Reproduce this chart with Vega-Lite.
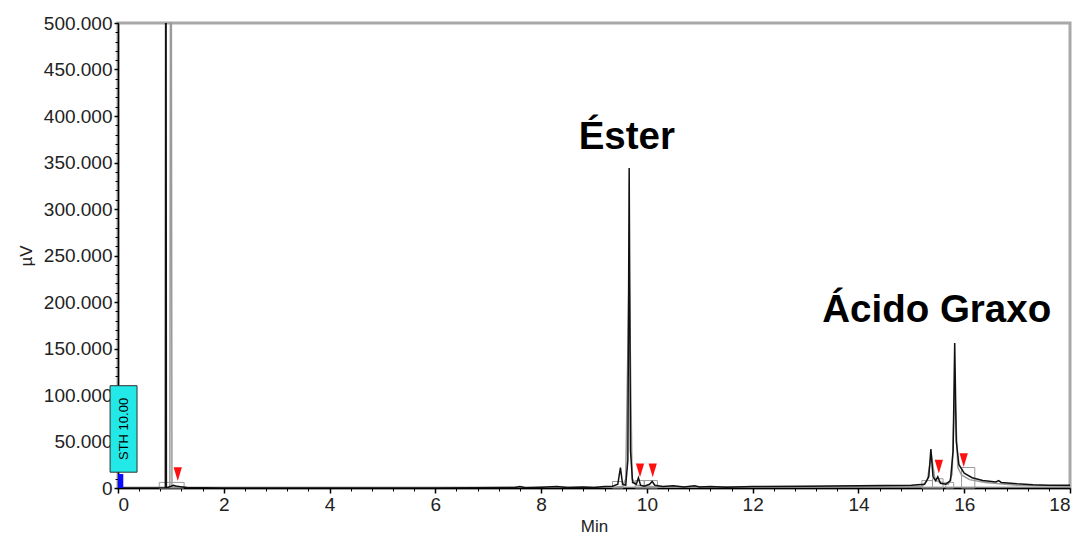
{
  "$schema": "https://vega.github.io/schema/vega-lite/v6.json",
  "autosize": {"type": "none"},
  "width": 952,
  "height": 465,
  "padding": {"left": 118, "top": 23, "right": 13, "bottom": 47},
  "background": "white",
  "config": {
    "locale": {"number": {"decimal": ",", "thousands": ".", "grouping": [3], "currency": ["R$", ""]}},
    "font": "Liberation Sans",
    "view": {"stroke": "#a8a8a8", "strokeWidth": 3},
    "axis": {"grid": false, "labelColor": "#222222", "titleColor": "#222222", "domainColor": "#000000", "tickColor": "#000000", "labelFont": "Liberation Sans", "titleFont": "Liberation Sans"}
  },
  "datasets": {
    "trace": [
      {"t": 0, "v": 0}, {"t": 0.5, "v": 0}, {"t": 0.895, "v": 0}, {"t": 0.905, "v": 900000}, {"t": 0.915, "v": 0},
      {"t": 1.05, "v": 3000}, {"t": 1.1, "v": 2000}, {"t": 1.3, "v": 500}, {"t": 2, "v": 0}, {"t": 4, "v": 0},
      {"t": 6, "v": 0}, {"t": 7.5, "v": 500}, {"t": 7.6, "v": 1500}, {"t": 7.7, "v": 300}, {"t": 8.0, "v": 800},
      {"t": 8.3, "v": 1500}, {"t": 8.5, "v": 500}, {"t": 8.8, "v": 1200}, {"t": 9.0, "v": 600}, {"t": 9.2, "v": 1500},
      {"t": 9.35, "v": 2000}, {"t": 9.45, "v": 4000}, {"t": 9.5, "v": 22000}, {"t": 9.54, "v": 4000}, {"t": 9.6, "v": 3000},
      {"t": 9.64, "v": 30000}, {"t": 9.665, "v": 344000}, {"t": 9.69, "v": 40000}, {"t": 9.73, "v": 6000}, {"t": 9.8, "v": 4000},
      {"t": 9.84, "v": 11000}, {"t": 9.88, "v": 3000}, {"t": 9.95, "v": 2000}, {"t": 10.05, "v": 4000}, {"t": 10.1, "v": 7000},
      {"t": 10.15, "v": 3000}, {"t": 10.3, "v": 1500}, {"t": 10.5, "v": 2500}, {"t": 10.7, "v": 1000}, {"t": 10.9, "v": 2500},
      {"t": 11.0, "v": 1000}, {"t": 11.2, "v": 1500}, {"t": 11.5, "v": 800}, {"t": 12, "v": 1500}, {"t": 13, "v": 2000},
      {"t": 14, "v": 2500}, {"t": 15, "v": 3000}, {"t": 15.25, "v": 4000}, {"t": 15.33, "v": 12000}, {"t": 15.37, "v": 42000},
      {"t": 15.41, "v": 12000}, {"t": 15.46, "v": 8000}, {"t": 15.5, "v": 12000}, {"t": 15.55, "v": 5000}, {"t": 15.65, "v": 4000},
      {"t": 15.74, "v": 8000}, {"t": 15.79, "v": 40000}, {"t": 15.82, "v": 156000}, {"t": 15.85, "v": 50000}, {"t": 15.9, "v": 25000},
      {"t": 16.0, "v": 16000}, {"t": 16.15, "v": 11000}, {"t": 16.35, "v": 8000}, {"t": 16.6, "v": 6500}, {"t": 16.65, "v": 8000},
      {"t": 16.7, "v": 6000}, {"t": 17.0, "v": 4500}, {"t": 17.3, "v": 3500}, {"t": 17.6, "v": 3000}, {"t": 18, "v": 3000}
    ],
    "fit": [
      {"t": 0, "v": 0}, {"t": 0.98, "v": 0}, {"t": 1.0, "v": 900000}, {"t": 1.02, "v": 0}, {"t": 1.1, "v": 2000},
      {"t": 1.3, "v": 0}, {"t": 9.3, "v": 0}, {"t": 9.55, "v": 2000}, {"t": 9.6, "v": 10000}, {"t": 9.665, "v": 237000},
      {"t": 9.72, "v": 10000}, {"t": 9.8, "v": 3000}, {"t": 10.2, "v": 1000}, {"t": 15.2, "v": 2000}, {"t": 15.3, "v": 8000},
      {"t": 15.38, "v": 35000}, {"t": 15.45, "v": 8000}, {"t": 15.7, "v": 4000}, {"t": 15.77, "v": 15000}, {"t": 15.82, "v": 103000},
      {"t": 15.88, "v": 22000}, {"t": 15.95, "v": 14000}, {"t": 16.1, "v": 9000}, {"t": 16.4, "v": 6000}, {"t": 17, "v": 3000},
      {"t": 18, "v": 2000}
    ],
    "windows": [
      {"t0": 0.78, "t1": 1.25, "v0": 0, "v1": 6000},
      {"t0": 9.35, "t1": 9.55, "v0": 0, "v1": 7000},
      {"t0": 9.78, "t1": 9.95, "v0": 0, "v1": 8000},
      {"t0": 9.95, "t1": 10.2, "v0": 0, "v1": 8000},
      {"t0": 15.2, "t1": 15.4, "v0": 0, "v1": 8000},
      {"t0": 15.4, "t1": 15.6, "v0": 0, "v1": 10000},
      {"t0": 15.65, "t1": 15.8, "v0": 0, "v1": 6000},
      {"t0": 15.95, "t1": 16.2, "v0": 0, "v1": 22000}
    ],
    "marks": [
      {"t": 1.13, "v": 15000}, {"t": 9.87, "v": 19000}, {"t": 10.11, "v": 19000},
      {"t": 15.52, "v": 23000}, {"t": 15.99, "v": 30000}
    ],
    "labels": [
      {"t": 9.62, "v": 365000, "name": "Éster"},
      {"t": 15.48, "v": 178000, "name": "Ácido Graxo"}
    ],
    "event": [{"t0": -0.15, "t1": 0.36, "v0": 17000, "v1": 110000, "tm": 0.105, "vm": 63500, "name": "STH 10.00"}],
    "start": [{"t0": 0, "t1": 0.1, "v0": 0, "v1": 15000}]
  },
  "resolve": {"axis": {"x": "independent", "y": "independent"}},
  "layer": [
    {
      "data": {"name": "fit"},
      "mark": {"type": "line", "color": "#9a9a9a", "strokeWidth": 1.5, "clip": true},
      "encoding": {
        "x": {"field": "t", "type": "quantitative", "scale": {"domain": [0, 18], "nice": false, "zero": false},
          "axis": {"orient": "bottom", "values": [0.4,0.8,1.2,1.6,2.4,2.8,3.2,3.6,4.4,4.8,5.2,5.6,6.4,6.8,7.2,7.6,8.4,8.8,9.2,9.6,10.4,10.8,11.2,11.6,12.4,12.8,13.2,13.6,14.4,14.8,15.2,15.6,16.4,16.8,17.2,17.6],
            "labels": false, "domain": false, "tickSize": 3, "title": null, "tickWidth": 1}},
        "y": {"field": "v", "type": "quantitative", "scale": {"domain": [0, 500000], "nice": false},
          "axis": {"orient": "left", "tickCount": 50, "labels": false, "domain": false, "tickSize": 3, "title": null, "tickWidth": 1}}
      }
    },
    {
      "data": {"name": "windows"},
      "mark": {"type": "rect", "fill": null, "stroke": "#9a9a9a", "strokeWidth": 1},
      "encoding": {
        "x": {"field": "t0", "type": "quantitative", "axis": null},
        "x2": {"field": "t1"},
        "y": {"field": "v0", "type": "quantitative", "axis": null},
        "y2": {"field": "v1"}
      }
    },
    {
      "data": {"name": "trace"},
      "mark": {"type": "line", "color": "#111111", "strokeWidth": 1.5, "clip": true},
      "encoding": {
        "x": {"field": "t", "type": "quantitative",
          "axis": {"orient": "bottom", "values": [0,2,4,6,8,10,12,14,16,18], "format": "d", "labelFontSize": 19, "labelPadding": 2,
            "tickSize": 5, "tickWidth": 1.5, "domainWidth": 1.5, "title": "Min", "titleFontSize": 17, "titleFontWeight": "normal", "titlePadding": 4}},
        "y": {"field": "v", "type": "quantitative",
          "axis": {"orient": "left", "values": [0,50000,100000,150000,200000,250000,300000,350000,400000,450000,500000], "format": ",d",
            "labelFontSize": 19, "labelPadding": 2, "tickSize": 4, "tickWidth": 1.5, "domainWidth": 1.5,
            "title": "µV", "titleFontSize": 17, "titleFontWeight": "normal", "titlePadding": 8}}
      }
    },
    {
      "mark": {"type": "rule", "color": "#000000", "strokeWidth": 1.5},
      "encoding": {
        "x": {"datum": 18, "type": "quantitative", "axis": null},
        "y": {"datum": 0, "type": "quantitative", "axis": null},
        "y2": {"datum": 500000}
      }
    },
    {
      "data": {"name": "marks"},
      "mark": {"type": "point", "shape": "M-0.6,-1L0.6,-1L0,1Z", "filled": true, "color": "#ff1010", "size": 190, "opacity": 1},
      "encoding": {
        "x": {"field": "t", "type": "quantitative", "axis": null},
        "y": {"field": "v", "type": "quantitative", "axis": null}
      }
    },
    {
      "data": {"name": "start"},
      "mark": {"type": "rect", "fill": "#0a0aff"},
      "encoding": {
        "x": {"field": "t0", "type": "quantitative", "axis": null},
        "x2": {"field": "t1"},
        "y": {"field": "v0", "type": "quantitative", "axis": null},
        "y2": {"field": "v1"}
      }
    },
    {
      "data": {"name": "event"},
      "mark": {"type": "rect", "fill": "#22e8e8", "stroke": "#333333", "strokeWidth": 1},
      "encoding": {
        "x": {"field": "t0", "type": "quantitative", "axis": null},
        "x2": {"field": "t1"},
        "y": {"field": "v0", "type": "quantitative", "axis": null},
        "y2": {"field": "v1"}
      }
    },
    {
      "data": {"name": "event"},
      "mark": {"type": "text", "angle": 270, "align": "center", "baseline": "middle", "fontSize": 13, "color": "#000000"},
      "encoding": {
        "x": {"field": "tm", "type": "quantitative", "axis": null},
        "y": {"field": "vm", "type": "quantitative", "axis": null},
        "text": {"field": "name"}
      }
    },
    {
      "data": {"name": "labels"},
      "mark": {"type": "text", "align": "center", "baseline": "alphabetic", "fontSize": 38.5, "fontWeight": "bold", "color": "#000000"},
      "encoding": {
        "x": {"field": "t", "type": "quantitative", "axis": null},
        "y": {"field": "v", "type": "quantitative", "axis": null},
        "text": {"field": "name"}
      }
    }
  ]
}
